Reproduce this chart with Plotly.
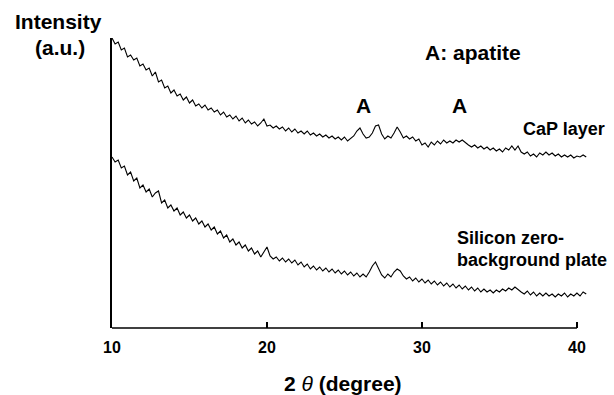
import plotly.graph_objects as go

cap_layer = [290, 284, 286, 278, 280, 271, 273, 268, 270, 262, 264, 258, 260, 252, 256, 246, 248, 240, 242, 235,
             238, 232, 234, 228, 231, 225, 228, 222, 224, 220, 223, 218, 220, 216, 218, 213, 216, 211, 213, 209,
             212, 207, 210, 205, 208, 204, 206, 202, 205, 209, 202, 203, 200, 202, 199, 201, 197, 200, 196, 199,
             195, 197, 194, 197, 193, 195, 192, 194, 191, 193, 190, 192, 189, 191, 188, 191, 187, 190, 192, 197,
             200, 194, 190, 191, 195, 202, 203, 194, 189, 192, 190, 195, 201, 196, 190, 192, 189, 191, 187, 189,
             183, 185, 181, 186, 183, 187, 184, 188, 185, 187, 185, 188, 186, 188, 185, 183, 181, 183, 180, 182,
             179, 181, 178, 180, 177, 179, 176, 180, 178, 182, 178, 182, 176, 174, 176, 172, 174, 171, 175, 173,
             176, 173, 175, 172, 174, 171, 173, 171, 173, 170, 172, 171, 173, 171]
silicon_plate = [171, 166, 168, 160, 162, 153, 156, 147, 150, 140, 143, 136, 139, 131, 135, 137, 125, 128, 120, 123,
                 117, 120, 113, 116, 110, 113, 107, 110, 104, 107, 101, 104, 98, 101, 94, 97, 90, 93, 86, 89,
                 83, 86, 80, 83, 77, 80, 74, 77, 71, 76, 81, 72, 69, 71, 67, 70, 66, 69, 65, 68,
                 63, 66, 61, 64, 59, 62, 58, 61, 57, 60, 56, 59, 55, 58, 54, 57, 53, 56, 52, 55,
                 51, 54, 51, 56, 62, 66, 60, 53, 50, 54, 51, 56, 59, 57, 52, 49, 51, 47, 50, 46,
                 49, 45, 48, 44, 47, 43, 46, 42, 45, 41, 44, 40, 43, 39, 42, 38, 41, 37, 40, 36,
                 39, 36, 38, 35, 38, 36, 39, 37, 40, 38, 41, 38, 36, 34, 37, 33, 36, 32, 35, 32,
                 35, 32, 34, 31, 34, 32, 35, 31, 34, 32, 35, 32, 36, 34]

x_start, x_step = 10.0, 0.2
two_theta_cap = [round(x_start + x_step * i, 2) for i in range(len(cap_layer))]
two_theta_si = [round(x_start + x_step * i, 2) for i in range(len(silicon_plate))]

tick_vals = [10, 20, 30, 40]
tick_text = ["10", "20", "30", "40"]

FONT = "Liberation Sans, Arial, Helvetica, sans-serif"

fig = go.Figure()
fig.add_trace(go.Scatter(x=two_theta_cap, y=cap_layer, mode="lines",
                         line=dict(color="black", width=1.1), showlegend=False))
fig.add_trace(go.Scatter(x=two_theta_si, y=silicon_plate, mode="lines",
                         line=dict(color="black", width=1.1), showlegend=False))

# bottom axis line from 10 to 40
fig.add_shape(type="line", xref="x", yref="paper", x0=10, x1=40, y0=0, y1=0,
              line=dict(color="black", width=1.5))

fig.update_layout(
    width=614, height=395,
    margin=dict(l=112, r=27, t=38, b=67),
    plot_bgcolor="white", paper_bgcolor="white",
    font=dict(family=FONT, color="black"),
    xaxis=dict(range=[10, 40.65], showgrid=False, zeroline=False, showline=False,
               tickvals=tick_vals, ticktext=[f"<b>{t}</b>" for t in tick_text],
               ticks="inside", ticklen=6, tickwidth=1.5, tickcolor="black",
               ticklabelstandoff=8,
               tickfont=dict(size=16, family=FONT, color="black")),
    yaxis=dict(range=[0, 290], showgrid=False, zeroline=False, showline=True,
               linecolor="black", linewidth=1.5, showticklabels=False, ticks=""),
)

def ann(text, x, y, size, xanchor="center"):
    fig.add_annotation(text=text, x=x, y=y, xref="paper", yref="paper", showarrow=False,
                       xanchor=xanchor, yanchor="middle", font=dict(size=size, family=FONT, color="black"))

W, H = 614.0, 395.0
def px(xp, yp):
    # convert page pixel coordinates into paper coordinates
    l, r, t, b = 112, 27, 38, 67
    return (xp - l) / (W - l - r), (H - b - yp) / (H - t - b)

x, y = px(58, 21); ann("<b>Intensity</b>", x, y, 21)
x, y = px(60, 48); ann("<b>(a.u.)</b>", x, y, 21)
x, y = px(423, 52); ann("<b>A: apatite</b>", x, y, 21, "left")
x, y = px(363, 105); ann("<b>A</b>", x, y, 21)
x, y = px(459, 105); ann("<b>A</b>", x, y, 21)
x, y = px(521, 129); ann("<b>CaP layer</b>", x, y, 18, "left")
x, y = px(455, 238); ann("<b>Silicon zero-</b>", x, y, 18, "left")
x, y = px(455, 260); ann("<b>background plate</b>", x, y, 18, "left")
x, y = px(343, 383); ann("<b>2 </b><i>θ</i><b> (degree)</b>", x, y, 21)

fig.write_html("out.html")
